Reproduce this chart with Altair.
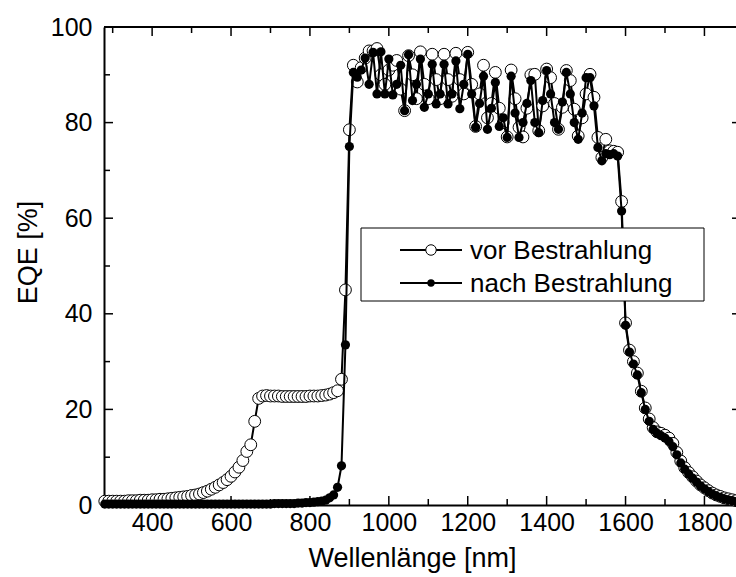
import altair as alt
import pandas as pd

# ---------------- data ----------------
wavelength = list(range(280, 1890, 10))

eqe_vor = [
    0.8, 0.8, 0.8, 0.8, 0.8, 0.8, 0.9, 0.9, 0.9, 1.0,
    1.0, 1.0, 1.1, 1.1, 1.2, 1.2, 1.3, 1.4, 1.5, 1.6,
    1.7, 1.8, 2.0, 2.1, 2.3, 2.6, 2.9, 3.3, 3.7, 4.2,
    4.7, 5.3, 6.0, 6.9, 7.9, 9.3, 11.2, 12.6, 17.5, 22.3,
    22.8, 22.9, 22.8, 22.8, 22.8, 22.7, 22.7, 22.7, 22.7, 22.7,
    22.7, 22.7, 22.8, 22.8, 22.8, 22.9, 23.0, 23.2, 23.5, 23.9,
    26.3, 45.0, 78.5, 92.0, 88.5, 91.5, 93.5, 95.0, 95.0, 95.5,
    90.0, 88.0, 91.0, 92.0, 93.0, 87.0, 82.5, 94.0, 90.0, 85.0,
    94.8, 88.0, 85.0, 94.3, 89.0, 85.0, 94.3, 89.0, 85.5, 94.5,
    89.0, 86.0, 94.7, 88.0, 79.2, 86.0, 92.0, 81.0, 84.0, 90.5,
    83.0, 80.0, 77.0, 91.0, 85.0, 79.0, 77.0, 83.0, 90.0, 90.1,
    78.3, 83.5, 91.2, 89.4, 84.0, 78.6, 83.2, 90.9, 88.8, 82.8,
    77.2, 81.0, 86.0, 90.1, 85.3, 76.9, 72.7, 76.5, 74.1, 74.0,
    73.8, 63.5, 38.1, 32.4, 30.0, 27.6, 23.8, 20.3, 18.0, 16.2,
    15.3, 15.0, 14.6, 14.0, 12.9, 11.0, 9.2, 7.8, 6.8, 5.9,
    5.0, 4.2, 3.6, 3.0, 2.5, 2.1, 1.8, 1.5, 1.3, 1.1,
    0.9,
]

eqe_nach = [
    0.2, 0.2, 0.2, 0.2, 0.2, 0.2, 0.2, 0.2, 0.2, 0.2,
    0.2, 0.2, 0.2, 0.2, 0.2, 0.2, 0.2, 0.2, 0.2, 0.2,
    0.2, 0.2, 0.2, 0.2, 0.2, 0.2, 0.2, 0.2, 0.2, 0.2,
    0.2, 0.2, 0.2, 0.2, 0.2, 0.2, 0.2, 0.2, 0.2, 0.2,
    0.2, 0.2, 0.2, 0.3, 0.3, 0.3, 0.3, 0.3, 0.3, 0.4,
    0.4, 0.5, 0.5, 0.6, 0.7, 0.8, 1.0, 1.5, 2.1, 3.7,
    8.2, 33.5, 75.0, 90.5, 89.5, 91.0, 93.5, 88.0, 94.7, 86.0,
    94.8, 86.0, 93.3, 85.8, 88.0, 92.0, 82.5, 94.2, 84.6, 88.0,
    93.3, 83.2, 86.0, 92.2, 83.9, 86.0, 92.2, 83.9, 86.0, 92.9,
    82.9, 88.0, 94.3, 86.0, 79.0, 84.0, 89.7, 78.6, 83.0, 88.4,
    79.2, 81.0, 76.9, 89.7, 82.0, 76.9, 80.0, 84.0, 88.8, 80.0,
    77.9, 84.6, 90.9, 86.0, 80.0, 78.6, 84.3, 90.5, 86.0, 80.0,
    76.5, 82.0, 89.4, 89.4, 83.5, 74.8, 72.0, 73.5, 73.3, 73.5,
    73.0, 61.5, 37.6, 32.0, 29.5, 27.2, 23.5, 20.0, 17.5, 15.8,
    15.0, 14.5, 14.0, 13.3, 12.2, 10.5, 8.8, 7.5, 6.5, 5.6,
    4.8, 4.0, 3.4, 2.8, 2.3, 1.9, 1.6, 1.3, 1.1, 0.9,
    0.7,
]

series_names = ["vor Bestrahlung", "nach Bestrahlung"]

x_major = [400, 600, 800, 1000, 1200, 1400, 1600, 1800]
x_minor = [300, 500, 700, 900, 1100, 1300, 1500, 1700]
y_major = [0, 20, 40, 60, 80, 100]
y_minor = [10, 30, 50, 70, 90]

x_title = "Wellenlänge [nm]"
y_title = "EQE [%]"

# ---------------- layout / style ----------------
W, H = 632, 478
FONT = "Liberation Sans"
MAJ, MIN = 9, 6

df = pd.DataFrame({"wl": wavelength, "vor": eqe_vor, "nach": eqe_nach})

xs = alt.Scale(domain=[278, 1880], nice=False, zero=False)
ys = alt.Scale(domain=[0, 100], nice=False, zero=False)

x_axis = alt.Axis(
    values=x_major, format="d", labelFont=FONT, labelFontSize=25, labelColor="black",
    labelPadding=5, ticks=False, tickSize=0, domainColor="black", domainWidth=2,
    grid=False, labelFlush=False, labelOverlap=False,
    title=x_title, titleFont=FONT, titleFontSize=27, titleFontWeight="normal",
    titleColor="black", titleX=308, titleY=61, titleBaseline="alphabetic",
    titleAlign="center",
)
y_axis = alt.Axis(
    values=y_major, format="d", labelFont=FONT, labelFontSize=25, labelColor="black",
    labelPadding=12, ticks=False, tickSize=0, domainColor="black", domainWidth=2,
    grid=False, labelFlush=False, labelOverlap=False,
    title=y_title, titleFont=FONT, titleFontSize=27, titleFontWeight="normal",
    titleColor="black", titleAngle=270, titleX=-68, titleY=225,
    titleBaseline="alphabetic", titleAlign="center",
)


def X(field):
    return alt.X(field, scale=xs, axis=x_axis)


def Y(field):
    return alt.Y(field, scale=ys, axis=y_axis)


base = alt.Chart(df)

vor_line = base.mark_line(color="black", strokeWidth=2).encode(x=X("wl:Q"), y=Y("vor:Q"))
vor_pts = base.mark_point(shape="circle", filled=True, fill="white", stroke="black",
                          strokeWidth=1, size=140, opacity=1).encode(x=X("wl:Q"), y=Y("vor:Q"))
nach_line = base.mark_line(color="black", strokeWidth=2).encode(x=X("wl:Q"), y=Y("nach:Q"))
nach_pts = base.mark_circle(color="black", size=85, opacity=1).encode(x=X("wl:Q"), y=Y("nach:Q"))


# tick marks (inward)
def xticks(vals, length):
    d = pd.DataFrame({"t": vals})
    bottom = alt.Chart(d).mark_rule(color="black", strokeWidth=1.5).encode(
        x=X("t:Q"), y=alt.value(H), y2=alt.value(H - length))
    top = alt.Chart(d).mark_rule(color="black", strokeWidth=1.5).encode(
        x=X("t:Q"), y=alt.value(0), y2=alt.value(length))
    return [bottom, top]


def yticks(vals, length, right_len):
    d = pd.DataFrame({"t": vals})
    out = [alt.Chart(d).mark_rule(color="black", strokeWidth=1.5).encode(
        y=Y("t:Q"), x=alt.value(0), x2=alt.value(length))]
    if right_len:
        out.append(alt.Chart(d).mark_rule(color="black", strokeWidth=1.5).encode(
            y=Y("t:Q"), x=alt.value(W), x2=alt.value(W - right_len)))
    return out


one = pd.DataFrame({"a": [0]})
top_border = alt.Chart(one).mark_rule(color="black", strokeWidth=2).encode(
    x=alt.value(0), x2=alt.value(W), y=alt.value(0))

tick_layers = (xticks(x_major, MAJ) + xticks(x_minor, MIN)
               + yticks(y_major, MAJ, 4) + yticks(y_minor, MIN, 0))

# legend
leg_box = alt.Chart(one).mark_rect(fill="white", stroke="black", strokeWidth=1).encode(
    x=alt.value(257), x2=alt.value(600), y=alt.value(201), y2=alt.value(274))
legend_layers = [leg_box]
for i, name in enumerate(series_names):
    yy = 223 + 33 * i
    d = pd.DataFrame({"label": [name]})
    legend_layers.append(alt.Chart(d).mark_rule(color="black", strokeWidth=2).encode(
        x=alt.value(296), x2=alt.value(358), y=alt.value(yy)))
    if i == 0:
        legend_layers.append(alt.Chart(d).mark_point(
            shape="circle", filled=True, fill="white", stroke="black", strokeWidth=1,
            size=110, opacity=1).encode(x=alt.value(327), y=alt.value(yy)))
    else:
        legend_layers.append(alt.Chart(d).mark_circle(color="black", size=55, opacity=1).encode(
            x=alt.value(327), y=alt.value(yy)))
    legend_layers.append(alt.Chart(d).mark_text(
        align="left", baseline="middle", font=FONT, fontSize=26, color="black").encode(
        x=alt.value(366), y=alt.value(yy + 1), text="label:N"))

chart = alt.layer(
    vor_line, *tick_layers, top_border, vor_pts, nach_line, nach_pts, *legend_layers
).properties(
    width=W, height=H,
    padding={"left": 104, "top": 27, "right": 0, "bottom": 72},
    autosize=alt.AutoSizeParams(type="none"),
).configure_view(stroke=None)

chart.save("out.html", embed_options={"renderer": "svg", "actions": False})
